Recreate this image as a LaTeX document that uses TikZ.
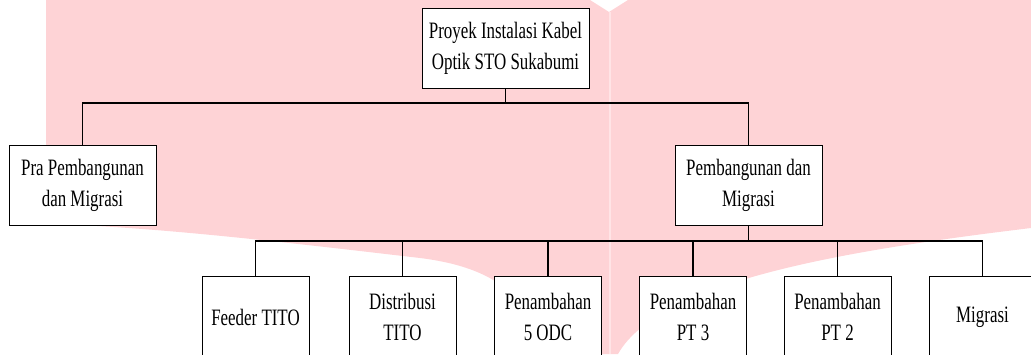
\documentclass[tikz,border=0pt]{standalone}
\usepackage{fontspec}
\setmainfont{Liberation Serif}[FakeStretch=0.72]

\definecolor{wmpink}{RGB}{254,211,214}
\definecolor{wmline}{RGB}{255,228,230}

\tikzset{
	unit/.style={draw=black, fill=white, line width=1pt, align=center, inner sep=0pt,
		font=\fontsize{23.5}{31}\selectfont},
	toplevel/.style={unit, minimum width=167pt, minimum height=80pt},
	midlevel/.style={unit, minimum width=147pt, minimum height=80pt},
	lowlevel/.style={unit, minimum width=107pt, minimum height=82pt},
	link/.style={line width=1.2pt}
}

\begin{document}
\begin{tikzpicture}[x=1pt, y=-1pt]

\clip (0,0) rectangle (1031,354);

% watermark
\fill[wmpink] (46,0) -- (590,0) -- (609,12) -- (628,0) -- (1031,0) -- (1031,228)
	.. controls (850,250) and (660,280) .. (618,354) -- (545,354)
	.. controls (530,300) and (500,268) .. (420,258)
	.. controls (300,244) and (150,226) .. (46,224) -- cycle;
\draw[wmline, line width=1.5pt] (610,12) -- (610,354);

% levels
\node[toplevel] (proyek) at (505.5,48) {Proyek Instalasi Kabel\\Optik STO Sukabumi};

\node[midlevel] (pra) at (82.5,185) {Pra Pembangunan\\dan Migrasi};
\node[midlevel] (bangun) at (748.5,185) {Pembangunan dan\\Migrasi};

\node[lowlevel] (feeder) at (255.5,317) {Feeder TITO};
\node[lowlevel] (distribusi) at (402.5,317) {Distribusi\\TITO};
\node[lowlevel] (odc) at (548,317) {Penambahan\\5 ODC};
\node[lowlevel] (pt3) at (693,317) {Penambahan\\PT 3};
\node[lowlevel] (pt2) at (837.5,317) {Penambahan\\PT 2};
\node[lowlevel] (migrasi) at (982.5,317) {Migrasi};

\coordinate (hubtop) at (505.5,103);
\coordinate (hubbangun) at (748.5,241);

\draw[link] (proyek) -- (hubtop);
\draw[link] (hubtop) -| (pra);
\draw[link] (hubtop) -| (bangun);

\draw[link] (bangun) -- (hubbangun);
\foreach \n in {feeder,distribusi,odc,pt3,pt2,migrasi}
	\draw[link] (hubbangun) -| (\n);

\end{tikzpicture}
\end{document}
